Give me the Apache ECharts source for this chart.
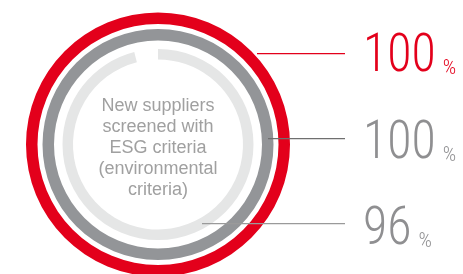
<!DOCTYPE html>
<html>
<head>
<meta charset="utf-8">
<script src="https://cdn.jsdelivr.net/npm/echarts@6/dist/echarts.min.js"></script>
<style>
html,body{margin:0;padding:0;background:#fff;}
#c{width:463px;height:274px;}
</style>
</head>
<body>
<div id="c"></div>
<script>
// Data
var ringNames = ['Ring A', 'Ring B', 'Ring C'];
var ringValues = [100, 100, 96];
var ringColors = ['#e3001b', '#939598', '#e5e6e6'];
var numberColors = ['#e3001b', '#8f8f91', '#8f8f91'];
var lineColors = ['#e3001b', '#6f6f6f', '#9a9a9a'];
var centerLines = ['New suppliers', 'screened with', 'ESG criteria', '(environmental', 'criteria)'];

var chart = echarts.init(document.getElementById('c'), null, {renderer: 'canvas'});

var cx = 158, cy = 144.5;
var radii = [[120.5, 132], [104, 115.5], [85, 95.5]];

var series = ringValues.map(function (v, i) {
  var data = [{value: v, name: ringNames[i], itemStyle: {color: ringColors[i]}}];
  if (v < 100) data.push({value: 100 - v, name: 'rest', itemStyle: {color: 'rgba(0,0,0,0)'}});
  return {
    type: 'pie',
    center: [cx, cy],
    radius: radii[i],
    startAngle: 90,
    clockwise: true,
    silent: true,
    label: {show: false},
    labelLine: {show: false},
    emphasis: {disabled: true},
    data: data,
    z: 1
  };
});

var numFont = '"Roboto Condensed", "Liberation Sans", sans-serif';
var numSize = 53, numScale = 0.94, pctSize = 21;
var ctx = document.createElement('canvas').getContext('2d');
ctx.font = '300 ' + numSize + 'px ' + numFont;

var lineYs = [53, 138, 223];
var lineX0 = [257, 268, 202];
var lineX1 = 345;
var baselines = [76, 163, 249];
var numX = 363;

var graphics = [];
ringValues.forEach(function (v, i) {
  graphics.push({
    type: 'rect', z: 10,
    shape: {x: lineX0[i], y: lineYs[i], width: lineX1 - lineX0[i], height: 1.2},
    style: {fill: lineColors[i]}
  });
  var txt = String(v);
  var w = ctx.measureText(txt).width * numScale;
  graphics.push({
    type: 'text', z: 10, x: numX, y: baselines[i] - 0.34 * numSize,
    scaleX: numScale,
    style: {
      text: txt, fontFamily: numFont, fontSize: numSize, fontWeight: 300,
      fill: numberColors[i], align: 'left', verticalAlign: 'middle'
    }
  });
  graphics.push({
    type: 'text', z: 10, x: numX + w + 7, y: baselines[i] - 0.34 * pctSize,
    style: {
      text: '%', fontFamily: numFont, fontSize: pctSize, fontWeight: 300,
      fill: numberColors[i], align: 'left', verticalAlign: 'middle'
    }
  });
});

graphics.push({
  type: 'text', z: 10, x: cx, y: 148.5,
  style: {
    text: centerLines.join('\n'),
    fontFamily: '"Liberation Sans", Arial, sans-serif',
    fontSize: 18, lineHeight: 21,
    fill: '#a0a0a0', align: 'center', verticalAlign: 'middle'
  }
});

chart.setOption({
  animation: false,
  backgroundColor: '#ffffff',
  series: series,
  graphic: graphics
});
</script>
</body>
</html>
